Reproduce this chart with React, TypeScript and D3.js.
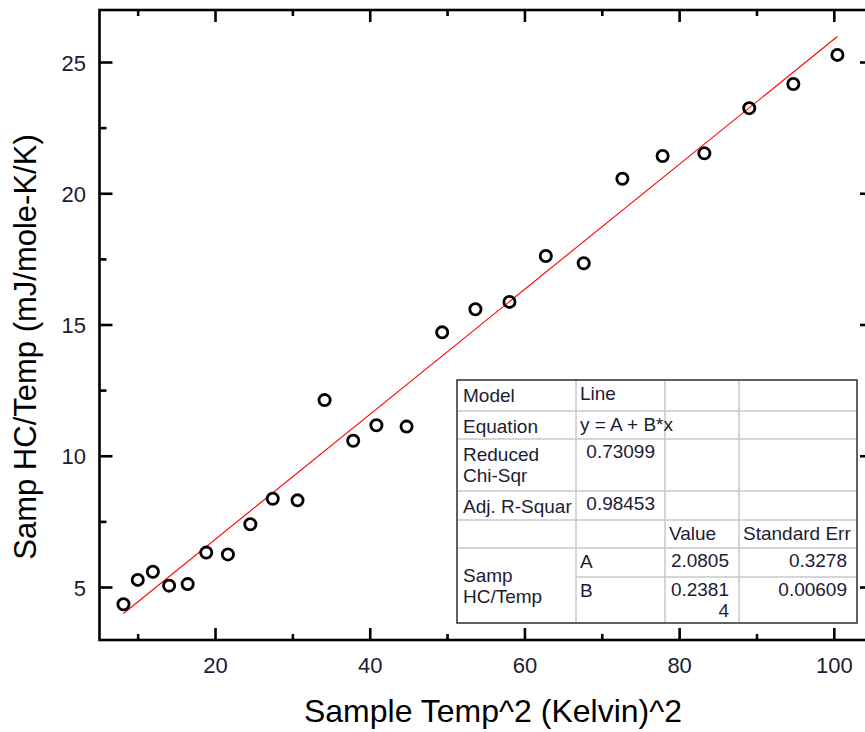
import React from "react";
import * as d3 from "d3";

// ---- data ----
const tempSq = [8.1, 9.95, 11.9, 14.0, 16.4, 18.8, 21.6, 24.5, 27.4, 30.6, 34.1, 37.8, 40.8, 44.7, 49.3, 53.6, 58.0, 62.7, 67.6, 72.6, 77.8, 83.2, 89.0, 94.7, 100.4];
const hcOverT = [4.36, 5.29, 5.6, 5.07, 5.13, 6.33, 6.26, 7.41, 8.38, 8.32, 12.14, 10.59, 11.18, 11.13, 14.72, 15.6, 15.88, 17.63, 17.35, 20.57, 21.44, 21.54, 23.26, 24.18, 25.29];

const fitA = 2.0805;
const fitB = 0.23814;

const xMajorTicks = [20, 40, 60, 80, 100];
const xMinorTicks = [10, 30, 50, 70, 90];
const yMajorTicks = [5, 10, 15, 20, 25];
const yMinorTicks = [7.5, 12.5, 17.5, 22.5];

const xTitle = "Sample Temp^2 (Kelvin)^2";
const yTitle = "Samp HC/Temp (mJ/mole-K/K)";

// table content
const tableLabels = ["Model", "Equation", "Reduced\nChi-Sqr", "Adj. R-Squar", "", "Samp\nHC/Temp"];
const tableCol2 = ["Line", "y = A + B*x", "0.73099", "0.98453", "", "A", "B"];
const tableCol3 = ["", "", "", "", "Value", "2.0805", "0.2381\n4"];
const tableCol4 = ["", "", "", "", "Standard Err", "0.3278", "0.00609"];

const W = 865;
const H = 732;
const FONT = "'Liberation Sans', Arial, sans-serif";
const TXT = "#1c1c34";

export default function App() {
  const x = d3.scaleLinear().domain([5, 105]).range([99.5, 873]);
  const y = d3.scaleLinear().domain([3, 27]).range([640, 10]);

  const [x0, x1] = x.range();
  const [yb, yt] = y.range();

  const points = tempSq.map((t, i) => [t, hcOverT[i]] as [number, number]);
  const xMin = d3.min(tempSq) as number;
  const xMax = d3.max(tempSq) as number;
  const fitLine = d3
    .line<number>()
    .x((v) => x(v))
    .y((v) => y(fitA + fitB * v))([xMin, xMax]);

  // table geometry
  const tL = 457, tR = 857;
  const cols = [tL, 576, 665, 739, tR];
  const rows = [380, 411, 439, 491, 520, 548, 577, 623];

  const multiline = (s: string, xx: number, yy: number, anchor: string, key: string) => (
    <text key={key} x={xx} y={yy} textAnchor={anchor as any} fontFamily={FONT} fontSize={19} fill={TXT}>
      {s.split("\n").map((ln, i) => (
        <tspan key={i} x={xx} dy={i === 0 ? 0 : 21}>
          {ln}
        </tspan>
      ))}
    </text>
  );

  const isNum = (s: string) => /^[0-9.]/.test(s);

  const tableText: React.ReactNode[] = [];
  tableLabels.forEach((s, i) => {
    if (!s) return;
    if (i < 5) tableText.push(multiline(s, tL + 6, rows[i] + 22, "start", "l" + i));
    else tableText.push(multiline(s, tL + 6, rows[5] + 34, "start", "l" + i));
  });
  [tableCol2, tableCol3, tableCol4].forEach((col, ci) => {
    col.forEach((s, ri) => {
      if (!s) return;
      const num = isNum(s);
      const xx = num ? cols[ci + 2] - 10 : cols[ci + 1] + 4;
      const yy = rows[ri] + (num ? 19 : 20);
      tableText.push(multiline(s, xx, yy, num ? "end" : "start", `c${ci}-${ri}`));
    });
  });

  return (
    <svg width={W} height={H} style={{ position: "absolute", left: 0, top: 0, background: "#fff" }}>
      <rect x={0} y={0} width={W} height={H} fill="#fff" />

      {/* fit line */}
      <path d={fitLine || ""} fill="none" stroke="#ff0000" strokeWidth={1.1} />

      {/* data points */}
      {points.map(([a, b], i) => (
        <circle key={i} cx={x(a)} cy={y(b)} r={5.6} fill="none" stroke="#000" strokeWidth={2.8} />
      ))}

      {/* frame */}
      <rect x={x0} y={yt} width={x1 - x0} height={yb - yt} fill="none" stroke="#000" strokeWidth={2.6} />

      {/* x ticks, bottom & top, inward */}
      {xMajorTicks.map((t) => (
        <g key={"xM" + t}>
          <line x1={x(t)} x2={x(t)} y1={yb} y2={yb - 12} stroke="#000" strokeWidth={2.6} />
          <line x1={x(t)} x2={x(t)} y1={yt} y2={yt + 12} stroke="#000" strokeWidth={2.6} />
          <text x={x(t)} y={673} textAnchor="middle" fontFamily={FONT} fontSize={22} fill={TXT}>
            {t}
          </text>
        </g>
      ))}
      {xMinorTicks.map((t) => (
        <g key={"xm" + t}>
          <line x1={x(t)} x2={x(t)} y1={yb} y2={yb - 6} stroke="#000" strokeWidth={2.6} />
          <line x1={x(t)} x2={x(t)} y1={yt} y2={yt + 6} stroke="#000" strokeWidth={2.6} />
        </g>
      ))}

      {/* y ticks, left & right, inward */}
      {yMajorTicks.map((t) => (
        <g key={"yM" + t}>
          <line x1={x0} x2={x0 + 13} y1={y(t)} y2={y(t)} stroke="#000" strokeWidth={2.6} />
          <line x1={x1} x2={x1 - 13} y1={y(t)} y2={y(t)} stroke="#000" strokeWidth={2.6} />
          <text x={86} y={y(t) + 8} textAnchor="end" fontFamily={FONT} fontSize={22} fill={TXT}>
            {t}
          </text>
        </g>
      ))}
      {yMinorTicks.map((t) => (
        <g key={"ym" + t}>
          <line x1={x0} x2={x0 + 7} y1={y(t)} y2={y(t)} stroke="#000" strokeWidth={2.6} />
          <line x1={x1} x2={x1 - 7} y1={y(t)} y2={y(t)} stroke="#000" strokeWidth={2.6} />
        </g>
      ))}

      {/* axis titles */}
      <text x={493} y={722} textAnchor="middle" fontFamily={FONT} fontSize={32} fill="#000">
        {xTitle}
      </text>
      <text
        transform={`translate(36, 347) rotate(-90)`}
        textAnchor="middle"
        fontFamily={FONT}
        fontSize={31}
        fill="#000"
      >
        {yTitle}
      </text>

      {/* stats table */}
      <rect x={tL} y={rows[0]} width={tR - tL} height={rows[7] - rows[0]} fill="#fff" />
      {rows.slice(1, 7).map((ry, i) => (
        <line key={"r" + i} x1={i === 5 ? cols[1] : tL} x2={tR} y1={ry} y2={ry} stroke="#c8c8c8" strokeWidth={1.5} />
      ))}
      {cols.slice(1, 4).map((cx, i) => (
        <line key={"c" + i} x1={cx} x2={cx} y1={rows[0]} y2={rows[7]} stroke="#c8c8c8" strokeWidth={1.5} />
      ))}
      <rect x={tL} y={rows[0]} width={tR - tL} height={rows[7] - rows[0]} fill="none" stroke="#3a3a3a" strokeWidth={1.6} />
      {tableText}
    </svg>
  );
}
